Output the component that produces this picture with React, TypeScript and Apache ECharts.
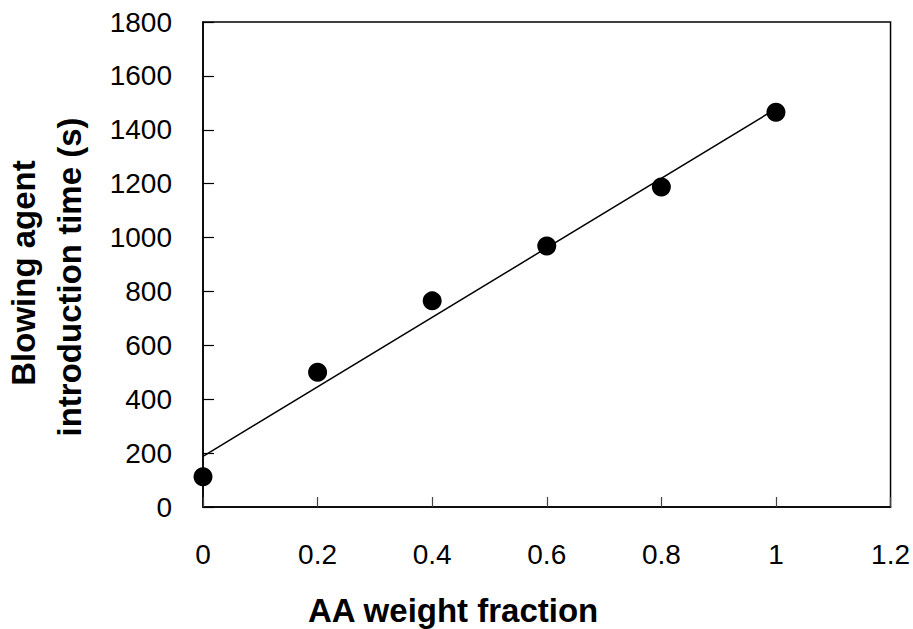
import React, { useEffect, useRef } from "react";
import * as echarts from "echarts";

const aaFraction = [0, 0.2, 0.4, 0.6, 0.8, 1.0];
const introTime = [112, 500, 765, 969, 1188, 1465];
const trendX = [0, 1.0];
const trendY = [188, 1478];
const xTicks = [0, 0.2, 0.4, 0.6, 0.8, 1.0, 1.2];
const yTicks = [0, 200, 400, 600, 800, 1000, 1200, 1400, 1600, 1800];

const FONT = "'Liberation Sans', Arial, Helvetica, sans-serif";

export default function App() {
  const ref = useRef<HTMLDivElement>(null);
  useEffect(() => {
    if (!ref.current) return;
    const chart = echarts.init(ref.current, null, { renderer: "svg" });
    chart.setOption({
      animation: false,
      backgroundColor: "#ffffff",
      grid: {
        left: 203,
        right: 21,
        top: 22,
        bottom: 122,
        show: true,
        borderColor: "#000",
        borderWidth: 1.5,
        backgroundColor: "transparent",
      },
      xAxis: {
        type: "value",
        min: xTicks[0],
        max: xTicks[xTicks.length - 1],
        interval: 0.2,
        axisLine: { show: true, lineStyle: { color: "#000", width: 1.5 } },
        axisTick: { show: true, inside: true, length: 10, lineStyle: { color: "#444", width: 1.2 } },
        splitLine: { show: false },
        axisLabel: {
          color: "#000",
          fontSize: 28,
          fontFamily: FONT,
          margin: 33,
          formatter: (v: number) => String(parseFloat(v.toFixed(1))),
        },
      },
      yAxis: {
        type: "value",
        min: yTicks[0],
        max: yTicks[yTicks.length - 1],
        interval: 200,
        axisLine: { show: true, lineStyle: { color: "#000", width: 1.5 } },
        axisTick: { show: true, inside: true, length: 11, lineStyle: { color: "#000", width: 1.2 } },
        splitLine: { show: false },
        axisLabel: {
          color: "#000",
          fontSize: 28,
          fontFamily: FONT,
          margin: 31,
          formatter: (v: number) => String(v),
        },
      },
      graphic: [
        {
          type: "text",
          left: 308,
          top: 594,
          style: {
            text: "AA weight fraction",
            font: `bold 33px ${FONT}`,
            fill: "#000",
          },
        },
        {
          type: "text",
          x: 23,
          y: 273,
          rotation: Math.PI / 2,
          style: {
            text: "Blowing agent",
            font: `bold 33px ${FONT}`,
            fill: "#000",
            align: "center",
            verticalAlign: "middle",
          },
        },
        {
          type: "text",
          x: 69,
          y: 277,
          rotation: Math.PI / 2,
          style: {
            text: "introduction time (s)",
            font: `bold 33px ${FONT}`,
            fill: "#000",
            align: "center",
            verticalAlign: "middle",
          },
        },
      ],
      series: [
        {
          type: "line",
          data: trendX.map((x, i) => [x, trendY[i]]),
          showSymbol: false,
          symbol: "none",
          lineStyle: { color: "#000", width: 1.5 },
          z: 2,
        },
        {
          type: "scatter",
          data: aaFraction.map((x, i) => [x, introTime[i]]),
          symbol: "circle",
          symbolSize: 19,
          itemStyle: { color: "#000", opacity: 1 },
          z: 3,
        },
      ],
    });
    return () => chart.dispose();
  }, []);
  return <div ref={ref} style={{ width: 913, height: 629, position: "absolute", left: 0, top: 0 }} />;
}
